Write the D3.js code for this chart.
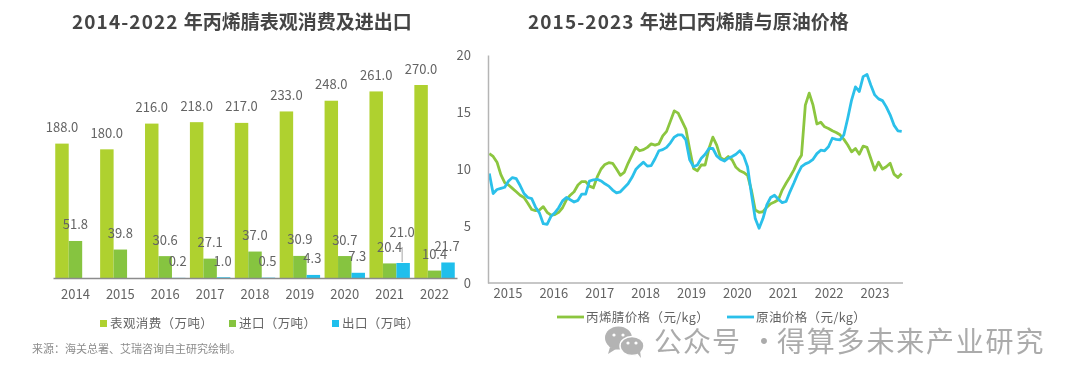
<!DOCTYPE html>
<html>
<head>
<meta charset="utf-8">
<script src="https://cdn.jsdelivr.net/npm/d3@7"></script>
<style>
  html, body { margin: 0; background: #fff; }
  svg { display: block; filter: blur(0.45px); }
  text { font-family: "Noto Sans CJK SC", "Noto Sans", sans-serif; }
</style>
</head>
<body>
<svg id="chart-area" width="1080" height="384"></svg>
<script>
// left chart data (万吨)
const years = ["2014","2015","2016","2017","2018","2019","2020","2021","2022"]
const consumption = [188,180,216,218,217,233,248,261,270]
const imports = [51.8,39.8,30.6,27.1,37,30.9,30.7,20.4,10.4]
const exports_ = [0,0,0.2,1,0.5,4.3,7.3,21,21.7]
const exportLabels = ["","","0.2","1.0","0.5","4.3","7.3","21.0","21.7"]

// right chart data, monthly readings (元/kg)
const priceYears = ["2015","2016","2017","2018","2019","2020","2021","2022","2023"]
const acrylonitrile = [
  11.35,11.1,10.6,9.5,8.8,8.6,8.3,8.0,7.7,7.5,7.0,6.45,
  6.35,6.4,6.7,6.2,5.95,6.0,6.2,6.6,7.3,7.7,8.0,8.6,
  8.9,8.9,8.5,8.35,9.3,10.0,10.4,10.55,10.5,10.0,9.45,9.7,
  10.5,11.2,11.9,11.6,11.7,11.9,12.2,12.1,12.2,12.9,13.3,14.2,
  15.1,14.9,14.2,13.5,11.7,10.05,9.85,10.35,10.35,11.8,12.8,12.1,
  11.0,10.8,11.1,10.8,10.15,9.85,9.7,9.45,8.15,6.4,6.2,6.25,
  6.65,6.95,7.1,7.3,8.15,8.75,9.3,9.9,10.65,11.2,15.6,16.65,
  15.6,13.95,14.1,13.7,13.55,13.35,13.2,13.0,12.6,12.1,11.5,11.8,
  11.3,12.0,11.9,10.9,9.9,10.6,10.0,10.2,10.5,9.55,9.25,9.6
]
const crude = [
  9.6,7.85,8.2,8.3,8.4,8.95,9.25,9.15,8.55,7.85,7.5,7.4,
  6.65,6.15,5.2,5.15,5.85,6.15,6.6,7.2,7.5,7.3,7.1,7.25,
  7.8,7.8,8.95,9.05,9.1,8.95,8.7,8.5,8.15,7.9,8.0,8.35,
  8.7,9.25,9.95,10.3,10.6,10.25,10.3,10.9,11.6,11.7,11.9,12.3,
  12.8,13.0,13.0,12.55,10.8,10.2,10.35,10.95,11.3,11.8,11.8,11.15,
  10.85,10.7,10.95,11.1,11.3,11.6,11.15,10.2,7.85,5.65,4.8,5.65,
  6.85,7.5,7.7,7.35,7.05,7.15,8.0,8.75,9.55,10.2,10.45,10.6,
  10.85,11.35,11.65,11.6,11.95,12.7,12.6,12.55,13.0,14.45,16.05,17.2,
  16.8,18.1,18.3,17.35,16.5,16.15,16.0,15.45,14.75,13.85,13.35,13.3
]

const textColor = "#646464"
const axisColor = "#8c8c8c"
const axisColorLight = "#b5b5b5"
const barColors = ["#afd12f", "#86c440", "#1fbfec"]
const lineColors = ["#8cc63f", "#2bc0ea"]

const svg = d3.select("#chart-area")

// titles: the year range is set wider than the Chinese part
function addTitle(x, yearsText, rest) {
  const t = svg.append("text").attr("x", x).attr("y", 29)
    .attr("font-size", 19).attr("font-weight", 700).attr("fill", "#454545")
  t.append("tspan").attr("letter-spacing", 1.1).text(yearsText)
  t.append("tspan").attr("dx", 5).text(rest)
}
addTitle(72, "2014-2022", "年丙烯腈表观消费及进出口")
addTitle(528, "2015-2023", "年进口丙烯腈与原油价格")

// ---- left chart: grouped bars
const baseY = 278
const xYear = d3.scaleBand().domain(years).range([53, 457]).paddingInner(0.1).paddingOuter(0.05)
const xGroup = d3.scaleBand().domain([0, 1, 2]).range([0, xYear.bandwidth()])
const yBar = d3.scaleLinear().domain([0, 270]).range([baseY, 85])

const seriesList = [consumption, imports, exports_]
const labelList = [consumption.map(d => d.toFixed(1)), imports.map(d => d.toFixed(1)), exportLabels]

const barChart = svg.append("g")
seriesList.forEach((series, s) => {
  barChart.selectAll(null)
    .data(series)
    .enter().append("rect")
    .attr("x", (d, i) => xYear(years[i]) + xGroup(s))
    .attr("y", d => yBar(d))
    .attr("width", xGroup.bandwidth())
    .attr("height", d => baseY - yBar(d))
    .attr("fill", barColors[s])

  barChart.selectAll(null)
    .data(series)
    .enter().append("text")
    .attr("x", (d, i) => xYear(years[i]) + xGroup(s) + xGroup.bandwidth() / 2 - (s === 2 ? 1 : 0))
    // the 2021 export label was dragged up with a leader line
    .attr("y", (d, i) => yBar(d) - 11.5 - (s === 2 && years[i] === "2021" ? 14 : 0))
    .attr("text-anchor", "middle")
    .attr("font-size", 13)
    .attr("fill", textColor)
    .text((d, i) => labelList[s][i])
})

// leader line for 21.0
const leaderX = xYear("2021") + xGroup(2) + xGroup.bandwidth() / 2 - 1
barChart.append("line")
  .attr("x1", leaderX).attr("x2", leaderX)
  .attr("y1", yBar(21) - 1).attr("y2", yBar(21) - 16)
  .attr("stroke", "#a6a6a6").attr("stroke-width", 1)

const xAxisLeft = svg.append("g")
  .attr("transform", `translate(0,${baseY})`)
  .call(d3.axisBottom(xYear).tickSize(0).tickPadding(12))
xAxisLeft.select(".domain").attr("stroke", axisColor).attr("stroke-width", 1.5)
xAxisLeft.selectAll("text").attr("font-size", 13).attr("fill", textColor)
  .style("font-family", '"Noto Sans CJK SC"')

// left legend
const legendLeft = [
  { x: 100, label: "表观消费（万吨）" },
  { x: 229, label: "进口（万吨）" },
  { x: 332, label: "出口（万吨）" }
]
legendLeft.forEach((d, i) => {
  svg.append("rect").attr("x", d.x).attr("y", 320).attr("width", 7).attr("height", 7).attr("fill", barColors[i])
  svg.append("text").attr("x", d.x + 10).attr("y", 328).attr("font-size", 12.5).attr("letter-spacing", 0.4)
    .attr("fill", textColor).text(d.label)
})

// source
svg.append("text").attr("x", 32).attr("y", 353).attr("font-size", 11).attr("fill", "#8c8c8c")
  .text("来源：海关总署、艾瑞咨询自主研究绘制。")

// ---- right chart: two lines
const months = d3.range(acrylonitrile.length)
const xMonth = d3.scaleLinear().domain([0, months.length - 1]).range([489.3, 901.7])
const yPrice = d3.scaleLinear().domain([0, 20]).range([283, 55])
const xPriceYear = d3.scaleBand().domain(priceYears).range([485, 898])

const line = d3.line()
  .x((d, i) => xMonth(i))
  .y(d => yPrice(d))

svg.append("path").attr("d", line(acrylonitrile)).attr("fill", "none")
  .attr("stroke", lineColors[0]).attr("stroke-width", 2.8).attr("stroke-linejoin", "round")
svg.append("path").attr("d", line(crude)).attr("fill", "none")
  .attr("stroke", lineColors[1]).attr("stroke-width", 2.8).attr("stroke-linejoin", "round")

const yAxisRight = svg.append("g")
  .attr("transform", "translate(488,0)")
  .call(d3.axisLeft(yPrice).ticks(4).tickSize(0).tickPadding(17))
yAxisRight.select(".domain").attr("stroke", axisColorLight).attr("stroke-width", 1.5)
yAxisRight.selectAll("text").attr("font-size", 13).attr("fill", textColor)
  .style("font-family", '"Noto Sans CJK SC"')

const xAxisRight = svg.append("g")
  .attr("transform", "translate(0,283)")
  .call(d3.axisBottom(xPriceYear).tickSize(0).tickPadding(6))
xAxisRight.select(".domain").remove()
xAxisRight.selectAll("text").attr("font-size", 13).attr("fill", textColor)
  .style("font-family", '"Noto Sans CJK SC"')
svg.append("line").attr("x1", 488).attr("x2", 903).attr("y1", 283).attr("y2", 283)
  .attr("stroke", axisColorLight).attr("stroke-width", 1.5)

// right legend
const legendRight = [
  { x: 557, label: "丙烯腈价格（元/kg）" },
  { x: 727, label: "原油价格（元/kg）" }
]
legendRight.forEach((d, i) => {
  svg.append("line").attr("x1", d.x).attr("x2", d.x + 27).attr("y1", 317).attr("y2", 317)
    .attr("stroke", lineColors[i]).attr("stroke-width", 2.8)
  svg.append("text").attr("x", d.x + 29).attr("y", 321.5).attr("font-size", 12.5).attr("letter-spacing", 0.4)
    .attr("fill", textColor).text(d.label)
})

// watermark
const mark = svg.append("g").attr("fill", "#b3b3b3")
mark.append("ellipse").attr("cx", 618.5).attr("cy", 338).attr("rx", 13.5).attr("ry", 11.5)
mark.append("path").attr("d", "M610,347 L608,354 L616,349 Z")
mark.append("ellipse").attr("cx", 632).attr("cy", 346).attr("rx", 12).attr("ry", 9.5).attr("stroke", "#fff").attr("stroke-width", 1.5)
mark.append("path").attr("d", "M637,353 L641,358 L640,351 Z")
const eyes = [[614, 335], [623, 335], [628, 343], [636, 343]]
mark.selectAll("circle").data(eyes).enter().append("circle")
  .attr("cx", d => d[0]).attr("cy", d => d[1]).attr("r", 1.6).attr("fill", "#fff")

svg.append("text").attr("x", 654).attr("y", 352).attr("font-size", 28).attr("fill", "#ababab").attr("letter-spacing", 1)
  .text("公众号")
svg.append("text").attr("x", 750).attr("y", 352).attr("font-size", 28).attr("fill", "#ababab").text("·")
svg.append("text").attr("x", 777).attr("y", 352).attr("font-size", 28).attr("fill", "#ababab").attr("letter-spacing", 1.8)
  .text("得算多未来产业研究")
</script>
</body>
</html>
